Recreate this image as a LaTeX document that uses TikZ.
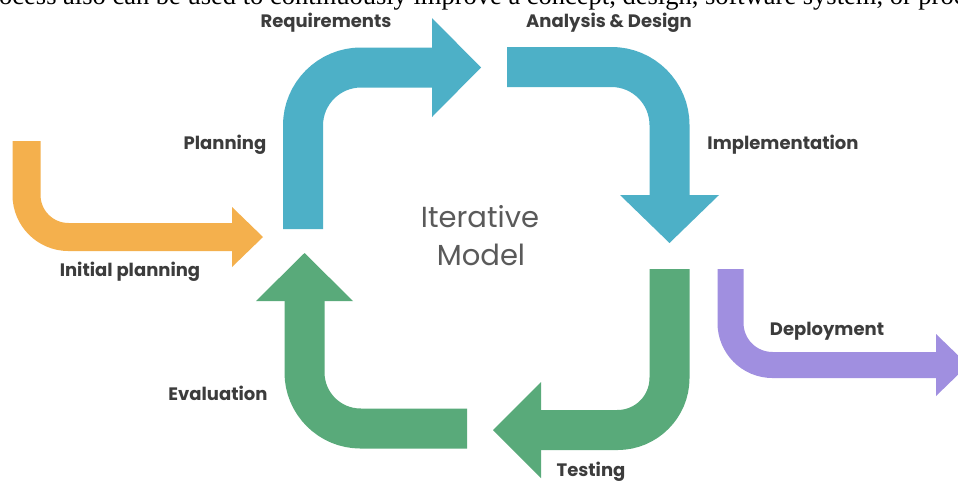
\documentclass[tikz,border=0pt]{standalone}
\usepackage{fontspec}
\setmainfont{Poppins}
\newfontfamily\serifline{Liberation Serif}
\definecolor{cblue}{HTML}{4DB0C7}
\definecolor{cgreen}{HTML}{59AA7A}
\definecolor{corange}{HTML}{F4B04D}
\definecolor{cpurple}{HTML}{A08FE0}
\definecolor{clabel}{HTML}{3C3C3C}
\definecolor{ctitle}{HTML}{5A5A5A}
\tikzset{
  shaft/.style={line width=#1, line cap=butt},
  lbl/.style={text=clabel, font=\bfseries\fontsize{18}{21}\selectfont, inner sep=0pt},
  ttl/.style={text=ctitle, font=\fontsize{29}{32}\selectfont, inner sep=0pt, anchor=base},
}
\begin{document}
\begin{tikzpicture}[x=1pt,y=-1pt]
\useasboundingbox (0,0) rectangle (958,483);
\clip (0,0) rectangle (958,483);
\fill[white] (0,0) rectangle (958,483);

% top cut-off sentence
\node[anchor=base west, inner sep=0pt, font=\serifline\fontsize{26.5}{30}\selectfont] (topline) at (-1,4.5) {ocess also can be used to continuously improve a concept, design, software system, or process};

% Blue 1: Planning -> Requirements
\coordinate (b1s) at (303,229); \coordinate (b1c) at (303,67.5); \coordinate (b1e) at (432,67.5);
\draw[cblue, shaft=40pt, rounded corners=58pt] (b1s) -- (b1c) -- (b1e);
\fill[cblue] (432,18) -- (481,67.5) -- (432,117) -- cycle;

% Blue 2: Analysis & Design -> Implementation
\coordinate (b2s) at (507,67); \coordinate (b2c) at (669.5,67); \coordinate (b2e) at (669.5,195);
\draw[cblue, shaft=40pt, rounded corners=58pt] (b2s) -- (b2c) -- (b2e);
\fill[cblue] (620,195) -- (669.5,243) -- (719,195) -- cycle;

% Green right: Testing
\coordinate (g1s) at (669.5,269); \coordinate (g1c) at (669.5,430); \coordinate (g1e) at (541,430);
\draw[cgreen, shaft=40pt, rounded corners=52pt] (g1s) -- (g1c) -- (g1e);
\fill[cgreen] (541,382) -- (493,430) -- (541,478) -- cycle;

% Green left: Evaluation
\coordinate (g2s) at (467,428.5); \coordinate (g2c) at (304.5,428.5); \coordinate (g2e) at (304.5,301);
\draw[cgreen, shaft=40pt, rounded corners=56pt] (g2s) -- (g2c) -- (g2e);
\fill[cgreen] (256,301) -- (304.5,253) -- (353,301) -- cycle;

% Orange: Initial planning
\coordinate (o1s) at (26.5,141); \coordinate (o1c) at (26.5,237); \coordinate (o1e) at (232,237);
\draw[corange, shaft=28pt, rounded corners=42pt] (o1s) -- (o1c) -- (o1e);
\fill[corange] (232,207) -- (263,237) -- (232,267) -- cycle;

% Purple: Deployment
\coordinate (p1s) at (730.5,269); \coordinate (p1c) at (730.5,365); \coordinate (p1e) at (936,365);
\draw[cpurple, shaft=26pt, rounded corners=42pt] (p1s) -- (p1c) -- (p1e);
\fill[cpurple] (936,334) -- (968,365) -- (936,396) -- cycle;

% labels
\node[lbl] (req) at (326,23) {Requirements};
\node[lbl] (ana) at (609,23) {Analysis \& Design};
\node[lbl] (pla) at (225,145) {Planning};
\node[lbl] (imp) at (783,145) {Implementation};
\node[lbl] (ini) at (130,272) {Initial planning};
\node[lbl] (dep) at (827,331) {Deployment};
\node[lbl] (eva) at (218,393) {Evaluation};
\node[lbl] (tes) at (591,472) {Testing};
\node[ttl] (it1) at (480,227) {Iterative};
\node[ttl] (it2) at (481,265) {Model};
\end{tikzpicture}
\end{document}
